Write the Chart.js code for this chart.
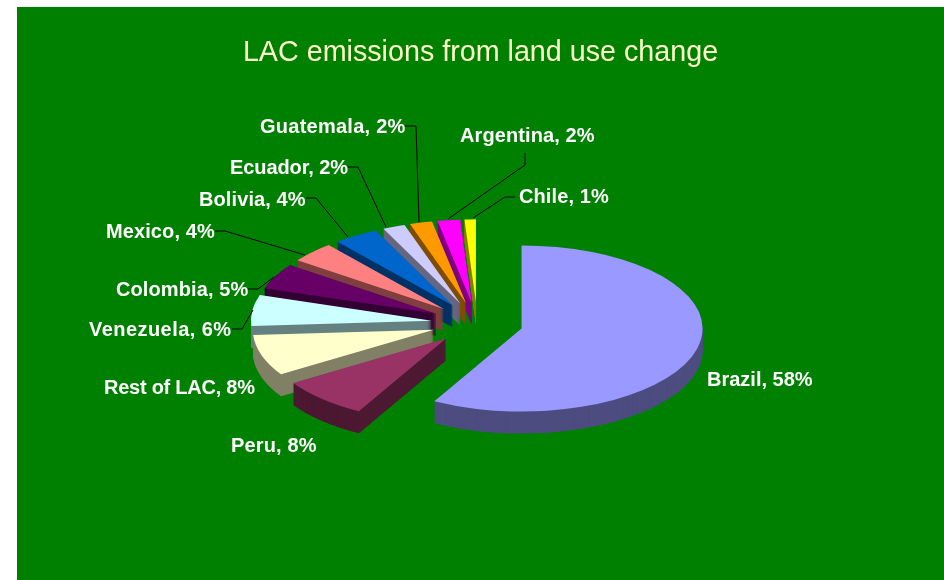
<!DOCTYPE html>
<html>
<head>
    <title>LAC emissions from land use change</title>
    <script src="https://cdn.jsdelivr.net/npm/chart.js"></script>
    <style>
        html, body { margin: 0; background: #ffffff; overflow: hidden; }
        #pieChart { position: absolute; left: 17px; top: 7px; background: #008000; }
    </style>
</head>
<body>
    <canvas id="pieChart" width="927" height="573"></canvas>

    <script>
        const categories = ['Brazil', 'Peru', 'Rest of LAC', 'Venezuela', 'Colombia', 'Mexico', 'Bolivia', 'Ecuador', 'Guatemala', 'Argentina', 'Chile'];
        const shares = [58, 8, 8, 6, 5, 4, 4, 2, 2, 2, 1];
        const topColors = ['#9999FF', '#993366', '#FFFFCC', '#CCFFFF', '#660066', '#FF8080', '#0066CC', '#CCCCFF', '#FF9900', '#FF00FF', '#FFFF00'];
        const sideColors = ['#4D4D80', '#4D1933', '#808066', '#668080', '#330033', '#804040', '#003366', '#666680', '#804D00', '#800080', '#808000'];

        // label start x / baseline y, page pixels
        const labelPos = [[707, 386], [231, 452], [104, 394], [89, 336], [116, 296], [106, 238], [199, 206], [230, 174], [260, 133], [460, 142], [519, 203]];
        // small tracking fixes so label widths line up
        const labelTrack = [0, 0.15, -0.25, 0.45, 0.1, 0.1, 0.1, -0.1, 0.25, 0.1, 0.1];
        const leaders = {
            3: [[232, 329], [242, 329], [253, 310]],
            4: [[248, 289], [258, 289], [274, 277]],
            5: [[215, 231], [225, 231], [305, 255]],
            6: [[306, 198], [316, 198], [348, 237]],
            7: [[348, 167], [358, 167], [386, 227]],
            8: [[405, 126], [416, 126], [419, 222]],
            9: [[525, 153], [525, 165], [448, 219]],
            10: [[515, 197], [505, 197], [473, 218]]
        };

        const panelLeft = 17, panelTop = 7;
        const pieX = 477.3 - panelLeft, pieY = 323.3 - panelTop;
        const radiusX = 181, radiusY = 83, depth = 22, explode = 45.7;
        const squash = radiusY / radiusX;

        // tilts the flat pie, pulls the slices apart and gives them a wall, back slices first
        const tiltPlugin = {
            id: 'tilt',
            beforeDatasetDraw(chart, args) {
                const ctx = chart.ctx;
                const arcs = args.meta.data;
                ctx.save();
                ctx.translate(pieX, pieY);
                ctx.scale(1, squash);
                ctx.translate(-arcs[0].x, -arcs[0].y);
                for (let i = arcs.length - 1; i >= 0; i--) {
                    const arc = arcs[i];
                    const mid = (arc.startAngle + arc.endAngle) / 2;
                    const topOptions = arc.options;
                    ctx.save();
                    ctx.translate(Math.cos(mid) * explode, Math.sin(mid) * explode);
                    arc.options = Object.assign({}, topOptions, { backgroundColor: sideColors[i] });
                    for (let d = depth; d > 0; d -= 0.5) {
                        ctx.save();
                        ctx.translate(0, d / squash);
                        arc.draw(ctx);
                        ctx.restore();
                    }
                    arc.options = topOptions;
                    arc.draw(ctx);
                    ctx.restore();
                }
                ctx.restore();
                return false;
            }
        };

        const labelPlugin = {
            id: 'sliceLabels',
            afterDraw(chart) {
                const ctx = chart.ctx;
                ctx.save();
                ctx.translate(-panelLeft, -panelTop);
                ctx.strokeStyle = '#000000';
                ctx.lineWidth = 1;
                Object.values(leaders).forEach(pts => {
                    ctx.beginPath();
                    pts.forEach((p, i) => i ? ctx.lineTo(p[0], p[1]) : ctx.moveTo(p[0], p[1]));
                    ctx.stroke();
                });
                ctx.fillStyle = '#FFFFFF';
                ctx.font = 'bold 20px "Liberation Sans", Arial, sans-serif';
                ctx.textAlign = 'left';
                ctx.textBaseline = 'alphabetic';
                categories.forEach((name, i) => {
                    ctx.letterSpacing = labelTrack[i] + 'px';
                    ctx.fillText(name + ', ' + shares[i] + '%', labelPos[i][0], labelPos[i][1]);
                });
                ctx.restore();
            }
        };

        new Chart(document.getElementById('pieChart'), {
            type: 'pie',
            data: {
                labels: categories,
                datasets: [{
                    data: shares,
                    backgroundColor: topColors,
                    borderWidth: 0
                }]
            },
            options: {
                responsive: false,
                animation: false,
                events: [],
                radius: radiusX,
                plugins: {
                    legend: { display: false },
                    tooltip: { enabled: false },
                    title: {
                        display: true,
                        text: 'LAC emissions from land use change',
                        color: '#FFFFCC',
                        font: { family: '"Liberation Sans", Arial, sans-serif', size: 28.7, weight: 'normal' },
                        padding: { top: 29, bottom: 0 }
                    }
                }
            },
            plugins: [tiltPlugin, labelPlugin]
        });
    </script>
</body>
</html>
